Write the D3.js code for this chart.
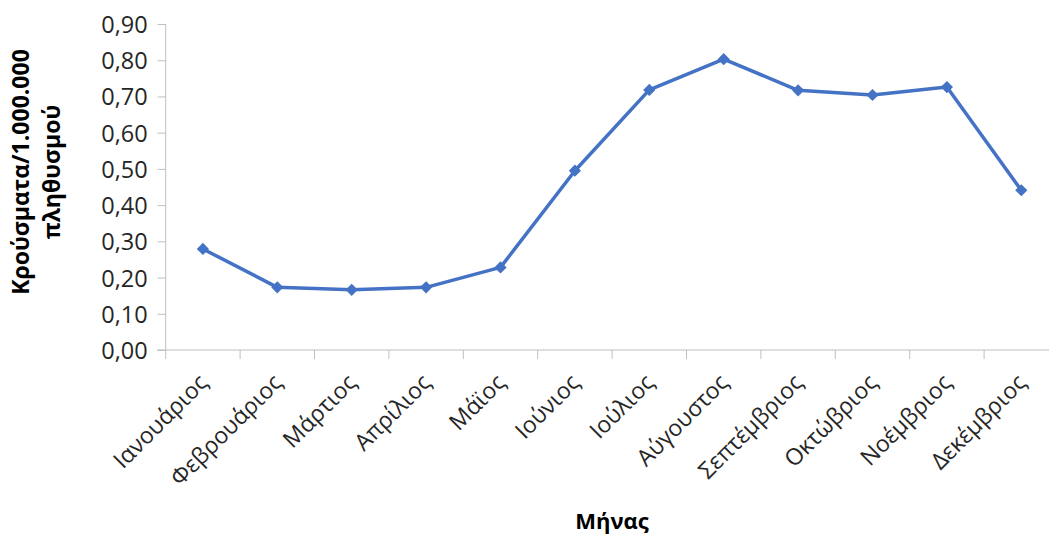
<!DOCTYPE html>
<html><head><meta charset="utf-8">
<script src="https://cdn.jsdelivr.net/npm/d3@7"></script>
<style>body{margin:0;background:#fff;} svg{display:block;}</style>
</head><body>
<svg id="c" width="1049" height="536"></svg>
<script>
const months = ["Ιανουάριος","Φεβρουάριος","Μάρτιος","Απρίλιος","Μάϊος","Ιούνιος","Ιούλιος","Αύγουστος","Σεπτέμβριος","Οκτώβριος","Νοέμβριος","Δεκέμβριος"];
const values = [0.279,0.173,0.166,0.173,0.228,0.495,0.718,0.803,0.717,0.704,0.726,0.441];
const yTicks = [0,0.1,0.2,0.3,0.4,0.5,0.6,0.7,0.8,0.9];
const yTitle = ["Κρούσματα/1.000.000","πληθυσμού"];
const xTitle = "Μήνας";

const svg = d3.select("#c");
const font = "'Open Sans', sans-serif";
const axisColor = "#bfbfbf";
const x = d3.scaleBand().domain(months).range([165.7, 1058.5]).paddingInner(0).paddingOuter(0);
const y = d3.scaleLinear().domain([0,0.9]).range([350,24]);

// y axis
const gy = svg.append("g").attr("transform","translate(165.7,0)")
  .call(d3.axisLeft(y).tickValues(yTicks).tickSize(8).tickPadding(10)
    .tickFormat(d => d3.format(".2f")(d).replace(".",",")));
gy.selectAll("path.domain").attr("stroke",axisColor).attr("d","M0,24V350");
gy.selectAll(".tick line").attr("stroke",axisColor);
gy.selectAll("text").attr("font-family",font).attr("font-size",23.5).attr("fill","#262626").attr("dy","0.36em");

// x axis
const gx = svg.append("g").attr("transform","translate(0,350)")
  .call(d3.axisBottom(x).tickSize(0).tickFormat(""));
gx.selectAll("path.domain").attr("stroke",axisColor).attr("d","M157,0H1060");
gx.selectAll(".tick").remove();
const bounds = months.map(m => x(m));
gx.selectAll("line.bt").data(bounds).enter().append("line").attr("class","bt")
  .attr("x1",d=>d).attr("x2",d=>d).attr("y1",0).attr("y2",9).attr("stroke",axisColor);

// x labels
svg.append("g").selectAll("text").data(months).enter().append("text")
  .attr("transform", d => `translate(${x(d)+x.bandwidth()/2+6},384) rotate(-45)`)
  .attr("text-anchor","end").attr("font-family",font).attr("font-size",23).attr("fill","#262626")
  .text(d=>d);

// line
const cx = d => x(d)+x.bandwidth()/2;
svg.append("path").datum(values)
  .attr("d", d3.line().x((v,i)=>cx(months[i])).y(v=>y(v)))
  .attr("fill","none").attr("stroke","#4472C4").attr("stroke-width",3.5).attr("stroke-linejoin","round");
svg.append("g").selectAll("path").data(values).enter().append("path")
  .attr("transform",(v,i)=>`translate(${cx(months[i])},${y(v)})`)
  .attr("d", d3.symbol().type(d3.symbolDiamond2).size(95))
  .attr("fill","#4472C4");

// y title
const yt = svg.append("text").attr("transform","translate(0,172) rotate(-90)")
  .attr("text-anchor","middle").attr("font-family",font).attr("font-weight","bold").attr("font-size",23).attr("fill","#000");
yt.append("tspan").attr("x",0).attr("y",29).text(yTitle[0]);
yt.append("tspan").attr("x",0).attr("y",60).text(yTitle[1]);

// x title
svg.append("text").attr("x",612).attr("y",529).attr("text-anchor","middle")
  .attr("font-family",font).attr("font-weight","bold").attr("font-size",22).attr("fill","#000").text(xTitle);
</script>
</body></html>
